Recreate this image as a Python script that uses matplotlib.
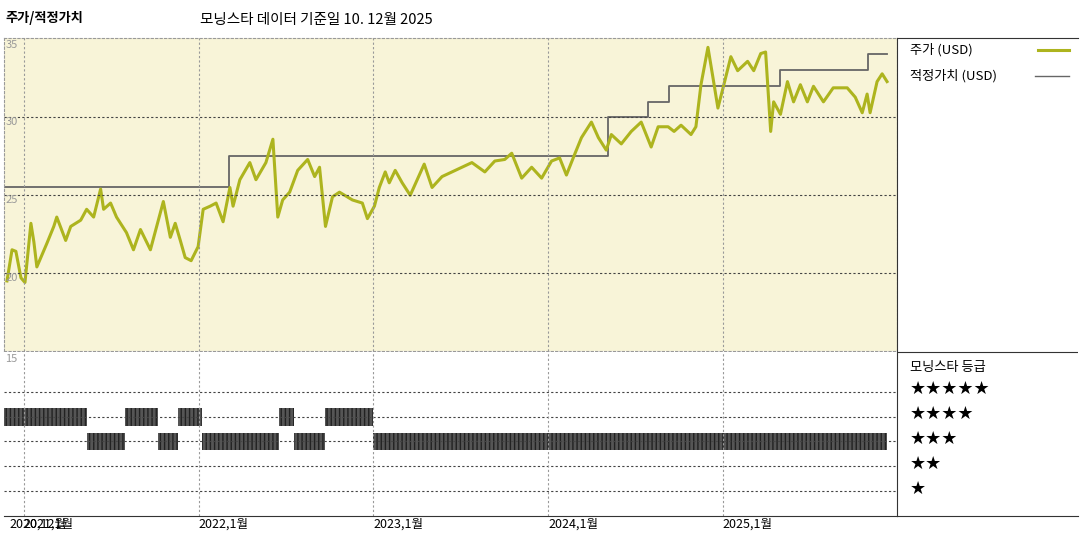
import matplotlib
matplotlib.use('Agg')
import matplotlib.pyplot as plt

plt.rcParams['font.family'] = ['Noto Sans CJK KR', 'DejaVu Sans']

# price (decimal year, USD)
price_t = [2020.903, 2020.932, 2020.954, 2020.983, 2021.006, 2021.040, 2021.057, 2021.074, 2021.131, 2021.171,
           2021.188, 2021.239, 2021.268, 2021.325, 2021.359, 2021.399, 2021.439, 2021.456, 2021.496, 2021.530,
           2021.587, 2021.627, 2021.667, 2021.724, 2021.798, 2021.838, 2021.866, 2021.895, 2021.923, 2021.957,
           2021.997, 2022.026, 2022.066, 2022.100, 2022.140, 2022.179, 2022.197, 2022.236, 2022.293, 2022.328,
           2022.385, 2022.425, 2022.453, 2022.481, 2022.521, 2022.567, 2022.624, 2022.664, 2022.692, 2022.726,
           2022.766, 2022.806, 2022.880, 2022.937, 2022.966, 2023.006, 2023.034, 2023.068, 2023.091, 2023.125,
           2023.165, 2023.211, 2023.291, 2023.336, 2023.393, 2023.450, 2023.507, 2023.564, 2023.638, 2023.695,
           2023.752, 2023.792, 2023.849, 2023.906, 2023.963, 2024.020, 2024.066, 2024.105, 2024.151, 2024.191,
           2024.248, 2024.288, 2024.333, 2024.362, 2024.419, 2024.476, 2024.533, 2024.590, 2024.630, 2024.687,
           2024.721, 2024.761, 2024.818, 2024.846, 2024.875, 2024.915, 2024.943, 2024.972, 2025.006, 2025.046,
           2025.085, 2025.142, 2025.177, 2025.217, 2025.245, 2025.274, 2025.291, 2025.330, 2025.370, 2025.405,
           2025.444, 2025.484, 2025.519, 2025.576, 2025.632, 2025.712, 2025.758, 2025.798, 2025.826, 2025.843,
           2025.883, 2025.912, 2025.940]
price = [19.5, 21.5, 21.4, 19.7, 19.4, 23.2, 22.0, 20.4, 21.9, 23.0,
         23.6, 22.1, 23.0, 23.4, 24.1, 23.6, 25.4, 24.1, 24.5, 23.6,
         22.6, 21.5, 22.8, 21.5, 24.6, 22.3, 23.2, 22.1, 21.0, 20.8,
         21.7, 24.1, 24.3, 24.5, 23.3, 25.5, 24.3, 26.0, 27.1, 26.0,
         27.1, 28.6, 23.6, 24.7, 25.2, 26.6, 27.3, 26.2, 26.8, 23.0,
         24.9, 25.2, 24.7, 24.5, 23.5, 24.3, 25.5, 26.5, 25.8, 26.6,
         25.8, 25.0, 27.0, 25.5, 26.2, 26.5, 26.8, 27.1, 26.5, 27.2,
         27.3, 27.7, 26.1, 26.8, 26.1, 27.2, 27.4, 26.3, 27.6, 28.7,
         29.7, 28.7, 27.9, 28.9, 28.3, 29.1, 29.7, 28.1, 29.4, 29.4,
         29.1, 29.5, 28.9, 29.4, 32.1, 34.5, 32.6, 30.6, 32.1, 33.9,
         33.0, 33.6, 33.0, 34.1, 34.2, 29.1, 31.0, 30.2, 32.3, 31.0,
         32.1, 31.0, 32.0, 31.0, 31.9, 31.9, 31.3, 30.3, 31.5, 30.3,
         32.3, 32.8, 32.3]

# fair value steps
fv_t = [2020.886, 2022.176, 2024.345, 2024.573, 2024.693, 2025.325, 2025.832, 2025.940]
fv = [25.5, 27.5, 30.0, 31.0, 32.0, 33.05, 34.1, 34.1]

# star rating periods (start, end, stars)
rating_start = [2020.886, 2021.359, 2021.581, 2021.769, 2021.883, 2022.020, 2022.459, 2022.544, 2022.721, 2022.997]
rating_end = [2021.359, 2021.581, 2021.769, 2021.883, 2022.020, 2022.459, 2022.544, 2022.721, 2022.997, 2025.940]
rating = [4, 3, 4, 3, 4, 3, 4, 3, 4, 3]

tick_pos = [2020.915, 2021.0, 2022.0, 2023.0, 2024.0, 2025.0]
tick_lab = ['2020,12월', '2021,1월', '2022,1월', '2023,1월', '2024,1월', '2025,1월']

W, H = 1080, 540
fig = plt.figure(figsize=(10.8, 5.4), dpi=100)
x0, x1 = 4 / W, 897 / W
ax = fig.add_axes([x0, 1 - 351 / H, x1 - x0, (351 - 38) / H])
ax2 = fig.add_axes([x0, 1 - 516 / H, x1 - x0, (516 - 352) / H])
leg = fig.add_axes([x1, 1 - 516 / H, 1078 / W - x1, (516 - 38) / H])

xlim = (2020.886, 2025.997)

ax.set_facecolor('#f8f4d8')
ax.step(fv_t, fv, where='post', color='#666666', lw=1.3)
ax.plot(price_t, price, color='#adb41e', lw=2.2)
ax.set_xlim(*xlim)
ax.set_ylim(15, 35.1)
for v in [20, 25, 30]:
    ax.axhline(v, color='#444444', lw=0.8, ls=(0, (2, 2)))
for t in tick_pos[1:]:
    ax.axvline(t, color='#999999', lw=0.8, ls=(0, (2, 2)))
for v in [20, 25, 30, 35]:
    ax.text(2020.895, v, str(v), fontsize=8, color='#999999', va='top', ha='left')
ax.set_xticks([])
ax.set_yticks([])
for s in ax.spines.values():
    s.set_color('#999999')
    s.set_linestyle((0, (2, 2)))
    s.set_linewidth(0.8)

for a, b, r in zip(rating_start, rating_end, rating):
    ax2.broken_barh([(a, b - a)], (r - 0.36, 0.72), facecolor='#555555',
                    edgecolor='#222222', hatch='||||', lw=0)
ax2.set_xlim(*xlim)
ax2.set_ylim(0, 6.6)
for v in [1, 2, 3, 4, 5]:
    ax2.axhline(v, color='#444444', lw=0.8, ls=(0, (2, 2)))
for t in tick_pos[1:]:
    ax2.axvline(t, color='#999999', lw=0.8, ls=(0, (2, 2)))
ax2.text(2020.895, 6.5, '15', fontsize=8, color='#999999', va='top', ha='left')
ax2.set_yticks([])
ax2.set_xticks(tick_pos)
ax2.set_xticklabels(tick_lab, fontsize=9, ha='left')
ax2.tick_params(axis='x', length=0, pad=1)
for k in ['top', 'left', 'right']:
    ax2.spines[k].set_visible(False)
ax2.spines['bottom'].set_color('#333333')

leg.set_xlim(0, 1)
leg.set_ylim(0, 1)
leg.set_xticks([])
leg.set_yticks([])
for s in leg.spines.values():
    s.set_color('#333333')
    s.set_linewidth(0.8)
leg.spines['right'].set_visible(False)
leg.axhline(1 - (352 - 38) / (516 - 38), color='#333333', lw=0.8)
fs = 9.5
leg.text(0.07, 0.975, '주가 (USD)', fontsize=fs, va='center')
leg.plot([0.78, 0.95], [0.975, 0.975], color='#adb41e', lw=2.2)
leg.text(0.07, 0.92, '적정가치 (USD)', fontsize=fs, va='center')
leg.plot([0.76, 0.95], [0.92, 0.92], color='#666666', lw=1.0)
leg.text(0.07, 0.31, '모닝스타 등급', fontsize=fs, va='center')
for i, n in enumerate([5, 4, 3, 2, 1]):
    leg.text(0.07, 0.265 - i * 0.052, '★' * n, fontsize=13, va='center',
             family=['DejaVu Sans'])

fig.text(5 / W, 1 - 18 / H, '주가/적정가치', fontsize=9.5, fontweight='bold', va='center')
fig.text(200 / W, 1 - 20 / H, '모닝스타 데이터 기준일 10. 12월 2025', fontsize=10.5, va='center')

fig.savefig('out.png', dpi=100)
